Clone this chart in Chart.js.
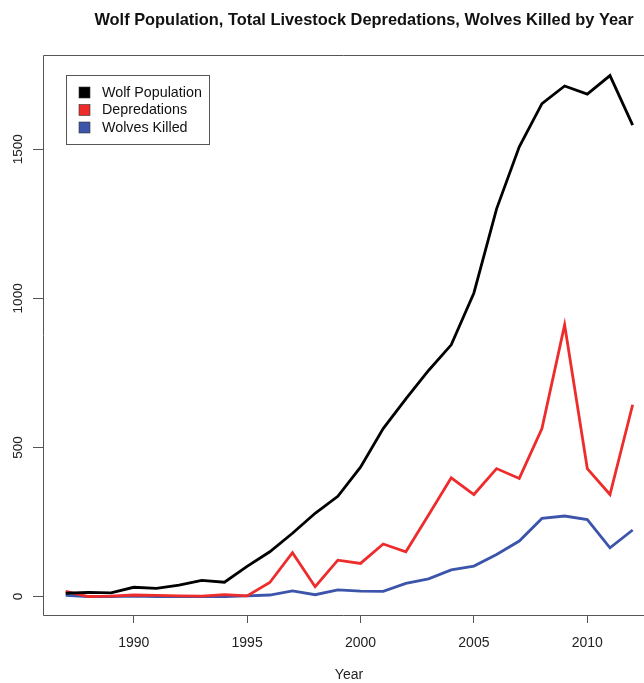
<!DOCTYPE html>
<html>
<head>
<meta charset="utf-8">
<script src="https://cdn.jsdelivr.net/npm/chart.js@4.4.1/dist/chart.umd.min.js"></script>
<style>
  html, body { margin: 0; padding: 0; background: #ffffff; }
  #wrap { width: 644px; height: 683px; position: relative; }
</style>
</head>
<body>
<div id="wrap"><canvas id="chart" width="644" height="683"></canvas></div>
<script>
// Northern Rockies wolves, 1987-2012
const years = [1987, 1988, 1989, 1990, 1991, 1992, 1993, 1994, 1995, 1996, 1997, 1998, 1999,
               2000, 2001, 2002, 2003, 2004, 2005, 2006, 2007, 2008, 2009, 2010, 2011, 2012];
const wolfPopulation = [11, 14, 12, 31, 27, 38, 54, 48, 101, 150, 212, 279, 336,
                        434, 563, 663, 758, 844, 1018, 1300, 1508, 1653, 1712, 1685, 1747, 1581];
const depredations = [17, 0, 1, 5, 4, 2, 1, 6, 2, 47, 147, 33, 122,
                      111, 176, 150, 273, 398, 342, 429, 396, 563, 911, 429, 342, 643];
const wolvesKilled = [4, 0, 0, 1, 0, 0, 0, 0, 2, 5, 19, 6, 22,
                      18, 17, 44, 59, 89, 102, 141, 186, 262, 270, 258, 163, 223];
const seriesNames = ['Wolf Population', 'Depredations', 'Wolves Killed'];
const seriesColors = ['#000000', '#ee2c2c', '#3c55aa'];
const xTickValues = [1990, 1995, 2000, 2005, 2010];
const yTickValues = [0, 500, 1000, 1500];
const chartTitle = 'Wolf Population, Total Livestock Depredations, Wolves Killed by Year';
const xAxisTitle = 'Year';

const FONT = '"Liberation Sans", Arial, Helvetica, sans-serif';
const AXIS_COLOR = '#555555';

function toPoints(values) {
  return years.map((yr, i) => ({ x: yr, y: values[i] }));
}

const seriesValues = [wolfPopulation, depredations, wolvesKilled];
const datasets = seriesValues.map((vals, i) => ({
  label: seriesNames[i],
  data: toPoints(vals),
  borderColor: seriesColors[i],
  backgroundColor: seriesColors[i],
  borderWidth: 2.8,
  pointRadius: 0,
  tension: 0,
  fill: false
}));

// Frame, rotated y labels, title, axis title and boxed legend
const decorations = {
  id: 'decorations',
  afterDraw(chart) {
    const { ctx, chartArea, scales } = chart;
    const ys = scales.y;

    ctx.save();
    // plot frame (top, left, bottom)
    ctx.strokeStyle = AXIS_COLOR;
    ctx.lineWidth = 1;
    ctx.beginPath();
    ctx.moveTo(chart.width, chartArea.top + 0.5);
    ctx.lineTo(chartArea.left + 0.5, chartArea.top + 0.5);
    ctx.lineTo(chartArea.left + 0.5, chartArea.bottom + 0.5);
    ctx.lineTo(chart.width, chartArea.bottom + 0.5);
    ctx.stroke();

    // y tick labels, reading upward
    ctx.fillStyle = '#222222';
    ctx.font = '13.6px ' + FONT;
    ctx.textAlign = 'center';
    ctx.textBaseline = 'middle';
    ys.ticks.forEach(t => {
      const py = ys.getPixelForValue(t.value);
      ctx.save();
      ctx.translate(18.5, py);
      ctx.rotate(-Math.PI / 2);
      ctx.fillText(String(t.value), 0, 0);
      ctx.restore();
    });

    // title
    ctx.fillStyle = '#111111';
    ctx.font = 'bold 16.4px ' + FONT;
    ctx.textAlign = 'center';
    ctx.textBaseline = 'alphabetic';
    ctx.fillText(chartTitle, 364, 25);

    // x axis title
    ctx.font = '14px ' + FONT;
    ctx.fillStyle = '#222222';
    ctx.textBaseline = 'middle';
    ctx.fillText(xAxisTitle, 349, 675);

    // legend
    const lx = 66, ly = 75, lw = 143, lh = 69;
    ctx.fillStyle = '#ffffff';
    ctx.fillRect(lx, ly, lw, lh);
    ctx.strokeStyle = AXIS_COLOR;
    ctx.strokeRect(lx + 0.5, ly + 0.5, lw, lh);
    ctx.font = '14.3px ' + FONT;
    ctx.textAlign = 'left';
    ctx.textBaseline = 'middle';
    chart.data.datasets.forEach((ds, i) => {
      const cy = 92.5 + i * 17.5;
      ctx.fillStyle = ds.borderColor;
      ctx.fillRect(79, cy - 5.5, 11, 11);
      ctx.strokeStyle = '#333333';
      ctx.lineWidth = 0.6;
      ctx.strokeRect(79, cy - 5.5, 11, 11);
      ctx.fillStyle = '#111111';
      ctx.fillText(ds.label, 102, cy + 0.5);
    });
    ctx.restore();
  }
};

new Chart(document.getElementById('chart'), {
  type: 'line',
  data: { datasets },
  plugins: [decorations],
  options: {
    responsive: false,
    devicePixelRatio: 1,
    animation: false,
    layout: { padding: { top: 55, left: 0, right: 0, bottom: 0 } },
    plugins: {
      legend: { display: false },
      title: { display: false },
      tooltip: { enabled: false }
    },
    scales: {
      x: {
        type: 'linear',
        min: 1986,
        max: 2012.5,
        afterBuildTicks: s => { s.ticks = xTickValues.map(v => ({ value: v })); },
        afterFit: s => { s.height = 68; },
        grid: {
          drawOnChartArea: false,
          drawTicks: true,
          tickLength: 8,
          tickColor: AXIS_COLOR,
          tickWidth: 1
        },
        border: { display: false },
        ticks: {
          color: '#222222',
          font: { family: FONT, size: 14 },
          padding: 12,
          maxRotation: 0,
          minRotation: 0,
          callback: v => String(v)
        }
      },
      y: {
        type: 'linear',
        min: -62,
        max: 1816,
        afterBuildTicks: s => { s.ticks = yTickValues.map(v => ({ value: v })); },
        afterFit: s => { s.width = 43; },
        grid: {
          drawOnChartArea: false,
          drawTicks: true,
          tickLength: 10,
          tickColor: AXIS_COLOR,
          tickWidth: 1
        },
        border: { display: false },
        ticks: { display: false }
      }
    }
  }
});
</script>
</body>
</html>
